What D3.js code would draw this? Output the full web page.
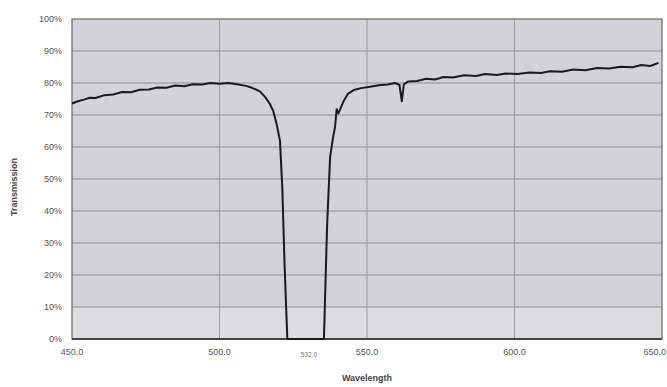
<!DOCTYPE html>
<html>
<head>
<meta charset="utf-8">
<script src="https://cdn.jsdelivr.net/npm/d3@7"></script>
<style>
  body { margin: 0; background: #fff; }
  svg { display: block; font-family: "Liberation Sans", Arial, sans-serif; }
</style>
</head>
<body>
<div id="chart"></div>
<script>
// wavelength (nm) and transmission (%)
const wavelength = [
  450, 452, 454, 456, 458, 461, 464, 467, 470, 473, 476, 479, 482, 485, 488, 491,
  494, 497, 500, 503, 506, 509, 511, 513.7, 515.5, 517, 518.2, 519.4, 520.5, 521.3,
  522, 522.5, 523, 535.4, 536, 536.5, 537.5, 538.5, 539.2, 539.7, 540.3, 541, 542,
  543.5, 545.5, 548, 551, 554, 557, 559.5, 561, 561.8, 562.5, 564, 567, 570, 573,
  576, 579, 583, 587, 590, 594, 597, 601, 605, 609, 612, 616, 620, 624, 628, 632,
  636, 640, 643, 646, 648.8
];
const transmission = [
  73.6, 74.3, 74.8, 75.4, 75.3, 76.2, 76.4, 77.2, 77.1, 77.9, 78.0, 78.6, 78.5, 79.2, 79.0, 79.6,
  79.5, 80.0, 79.8, 80.0, 79.6, 79.1, 78.5, 77.4, 75.6, 73.6, 71.3, 67.0, 62.0, 47.0,
  25.0, 12.0, 0, 0, 20.0, 36.0, 57.0, 63.0, 66.5, 71.8, 70.5, 72.0, 74.2,
  76.6, 77.8, 78.4, 78.8, 79.3, 79.5, 80.0, 79.4, 74.3, 79.6, 80.5, 80.6, 81.3, 81.1,
  81.9, 81.7, 82.4, 82.2, 82.8, 82.5, 83.0, 82.8, 83.3, 83.1, 83.7, 83.5, 84.2, 84.0, 84.7, 84.5,
  85.1, 84.9, 85.6, 85.3, 86.3
];
const xTicks = [450, 500, 550, 600, 650];
const yTicks = [0, 10, 20, 30, 40, 50, 60, 70, 80, 90, 100];
const peakLabel = { wl: 530.3, text: '532.0' };

const width = 667, height = 387;
const margin = { top: 19, right: 5, bottom: 48, left: 72 };

const svg = d3.select('#chart').append('svg')
  .attr('width', width).attr('height', height);

const x = d3.scaleLinear().domain([450, 650]).range([margin.left, width - margin.right]);
const y = d3.scaleLinear().domain([0, 100]).range([height - margin.bottom, margin.top]);

// plot background (scanned grey), lower band a little lighter
svg.append('rect')
  .attr('x', x(450)).attr('y', y(100))
  .attr('width', x(650) - x(450)).attr('height', y(0) - y(100))
  .attr('fill', '#d3d3d7');
svg.append('rect')
  .attr('x', x(450)).attr('y', y(10))
  .attr('width', x(650) - x(450)).attr('height', y(0) - y(10))
  .attr('fill', '#dcdcdf');

// grid
svg.append('g').selectAll('line.h').data(yTicks.slice(1, -1)).join('line')
  .attr('x1', x(450)).attr('x2', x(650))
  .attr('y1', d => y(d)).attr('y2', d => y(d))
  .attr('stroke', '#8e8e94').attr('stroke-width', 1);
svg.append('g').selectAll('line.v').data(xTicks.slice(1, -1)).join('line')
  .attr('x1', d => x(d)).attr('x2', d => x(d))
  .attr('y1', y(0)).attr('y2', y(100))
  .attr('stroke', '#9a9aa0').attr('stroke-width', 1);

// frame
svg.append('rect')
  .attr('x', x(450)).attr('y', y(100))
  .attr('width', x(650) - x(450)).attr('height', y(0) - y(100))
  .attr('fill', 'none').attr('stroke', '#6a6a6e').attr('stroke-width', 1.2);
svg.append('line')
  .attr('x1', x(450)).attr('x2', x(650)).attr('y1', y(0)).attr('y2', y(0))
  .attr('stroke', '#444').attr('stroke-width', 2);

// trace
const pts = wavelength.map((w, i) => [w, transmission[i]]);
svg.append('path')
  .datum(pts)
  .attr('fill', 'none').attr('stroke', '#1a1a1a')
  .attr('stroke-width', 2).attr('stroke-linejoin', 'round')
  .attr('d', d3.line().x(d => x(d[0])).y(d => y(d[1])));

// y tick labels
svg.append('g').selectAll('text').data(yTicks).join('text')
  .attr('x', x(450) - 10).attr('y', d => y(d) + 3)
  .attr('text-anchor', 'end').attr('font-size', 9).attr('fill', '#555')
  .text(d => d + '%');

// x tick labels (last one pulled in so it stays on the page)
svg.append('g').selectAll('text').data(xTicks).join('text')
  .attr('x', (d, i) => i === xTicks.length - 1 ? width - 1 : x(d)).attr('y', y(0) + 16)
  .attr('text-anchor', (d, i) => i === xTicks.length - 1 ? 'end' : 'middle')
  .attr('font-size', 9).attr('fill', '#555')
  .text(d => d.toFixed(1));

svg.append('text')
  .attr('x', x(peakLabel.wl)).attr('y', y(0) + 18)
  .attr('text-anchor', 'middle').attr('font-size', 6.5).attr('fill', '#777')
  .text(peakLabel.text);

// axis titles
svg.append('text')
  .attr('x', (x(450) + x(650)) / 2).attr('y', height - 6)
  .attr('text-anchor', 'middle').attr('font-size', 9).attr('font-weight', 'bold').attr('fill', '#444')
  .text('Wavelength');
svg.append('text')
  .attr('transform', `translate(17,${(y(0) + y(100)) / 2 + 8}) rotate(-90)`)
  .attr('text-anchor', 'middle').attr('font-size', 9).attr('font-weight', 'bold').attr('fill', '#444')
  .text('Transmission');
</script>
</body>
</html>
